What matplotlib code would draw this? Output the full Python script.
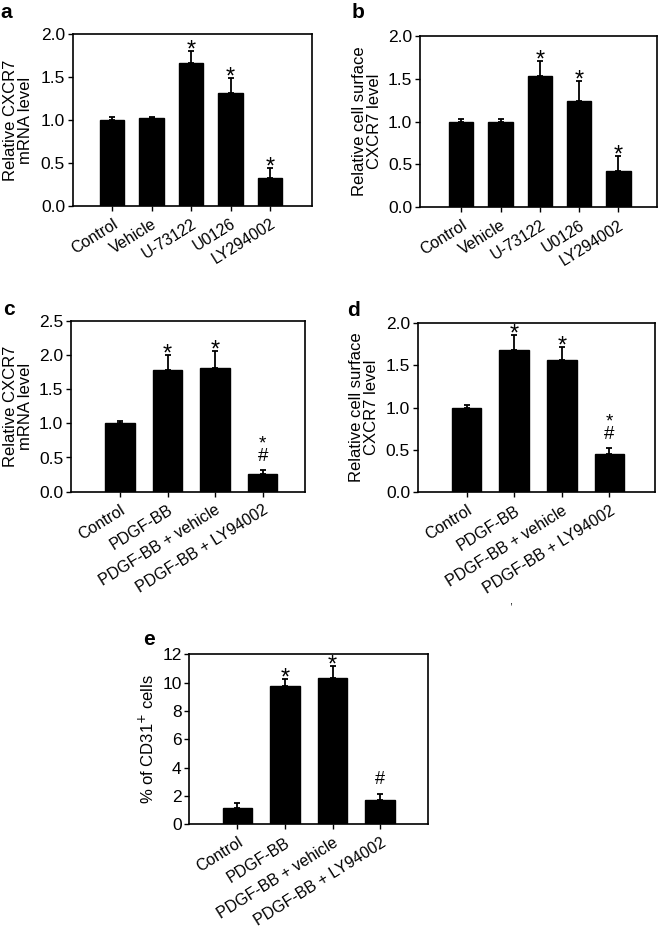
import matplotlib
matplotlib.use("Agg")
import matplotlib.pyplot as plt
import numpy as np

plt.rcParams['font.family'] = ['Liberation Sans', 'DejaVu Sans']
plt.rcParams['font.size'] = 11

# ---- data ----
cats_ab = ["Control", "Vehicle", "U-73122", "U0126", "LY294002"]
cats_cde = ["Control", "PDGF-BB", "PDGF-BB + vehicle", "PDGF-BB + LY94002"]

a_vals = [1.00, 1.02, 1.66, 1.31, 0.32]
a_errs = [0.03, 0.02, 0.15, 0.18, 0.12]
a_marks = ["", "", "*", "*", "*"]

b_vals = [1.00, 1.00, 1.53, 1.24, 0.42]
b_errs = [0.03, 0.035, 0.18, 0.23, 0.18]
b_marks = ["", "", "*", "*", "*"]

c_vals = [1.00, 1.78, 1.81, 0.26]
c_errs = [0.03, 0.22, 0.25, 0.05]
c_marks = ["", "*", "*", "*\n#"]

d_vals = [1.00, 1.68, 1.56, 0.45]
d_errs = [0.03, 0.17, 0.15, 0.07]
d_marks = ["", "*", "*", "*\n#"]

e_vals = [1.17, 9.78, 10.30, 1.72]
e_errs = [0.31, 0.48, 0.85, 0.42]
e_marks = ["", "*", "*", "#"]

fig = plt.figure(figsize=(6.6, 9.3), dpi=100)
W, H = 660.0, 930.0


def px_axes(l, r, t, b):
    return fig.add_axes([l / W, 1 - b / H, (r - l) / W, (b - t) / H])


def panel(ax, cats, vals, errs, marks, ylim, yticks, fmt, xlim, ylabel, labx):
    x = np.arange(len(cats))
    ax.bar(x, vals, width=0.62, color="black", edgecolor="black", zorder=2)
    ax.errorbar(x, vals, yerr=[np.zeros(len(vals)), errs], fmt="none",
                ecolor="black", elinewidth=1.3, capsize=2.3, capthick=1.3, zorder=3)
    ax.set_xlim(*xlim)
    ax.set_ylim(*ylim)
    ax.set_yticks(yticks)
    ax.set_yticklabels([fmt.format(v) for v in yticks], fontsize=12.5)
    ax.set_xticks(x)
    ax.set_xticklabels(cats, rotation=32, ha="right", va="top",
                       rotation_mode="anchor", fontsize=11.5)
    ax.tick_params(direction="out", length=3.5, width=1.0, pad=2)
    ax.tick_params(axis="x", pad=4)
    for s in ax.spines.values():
        s.set_linewidth(1.2)
    ax.set_ylabel(ylabel, fontsize=12, va="center", linespacing=1.0)
    ax.yaxis.set_label_coords(labx, 0.5)
    for xi, v, e, m in zip(x, vals, errs, marks):
        top = v + e
        if m == "*":
            ax.annotate("*", (xi, top), xytext=(0, -4),
                        textcoords="offset points", ha="center",
                        va="baseline", fontsize=17)
        elif m == "#":
            ax.annotate("#", (xi, top), xytext=(0, 7),
                        textcoords="offset points", ha="center",
                        va="baseline", fontsize=13)
        elif m:
            ax.annotate(m, (xi, top), xytext=(0, 6.5),
                        textcoords="offset points", ha="center",
                        va="baseline", fontsize=13.5, linespacing=0.68)


ax_a = px_axes(72.7, 311.7, 34.3, 205.7)
panel(ax_a, cats_ab, a_vals, a_errs, a_marks, (0, 2.0), [0, 0.5, 1.0, 1.5, 2.0],
      "{:.1f}", (-1.0, 5.05), "Relative CXCR7\nmRNA level", -0.23)

ax_b = px_axes(420, 657, 36, 207.3)
panel(ax_b, cats_ab, b_vals, b_errs, b_marks, (0, 2.0), [0, 0.5, 1.0, 1.5, 2.0],
      "{:.1f}", (-1.05, 4.98), "Relative cell surface\nCXCR7 level", -0.225)

ax_c = px_axes(71, 305, 320.7, 491.7)
panel(ax_c, cats_cde, c_vals, c_errs, c_marks, (0, 2.5),
      [0, 0.5, 1.0, 1.5, 2.0, 2.5], "{:.1f}", (-1.03, 3.89),
      "Relative CXCR7\nmRNA level", -0.226)

ax_d = px_axes(417.7, 655, 322.7, 492.3)
panel(ax_d, cats_cde, d_vals, d_errs, d_marks, (0, 2.0), [0, 0.5, 1.0, 1.5, 2.0],
      "{:.1f}", (-1.03, 3.96), "Relative cell surface\nCXCR7 level", -0.227)

ax_e = px_axes(189.3, 428.3, 654.3, 824.3)
panel(ax_e, cats_cde, e_vals, e_errs, e_marks, (0, 12), [0, 2, 4, 6, 8, 10, 12],
      "{:d}", (-1.01, 4.01), "% of CD31$^{+}$ cells", -0.175)

# panel letters
for lab, xp, yp in [("a", 0, 18), ("b", 352, 18.3), ("c", 3, 315),
                    ("d", 347, 316), ("e", 143, 645)]:
    fig.text(xp / W, 1 - yp / H, lab, fontsize=15, fontweight="bold",
             ha="left", va="baseline")

# small stray mark present in the original below panel d labels
fig.text(511 / W, 1 - 604 / H, ",", fontsize=8, ha="center", va="baseline")

fig.savefig("out.png", dpi=100)
